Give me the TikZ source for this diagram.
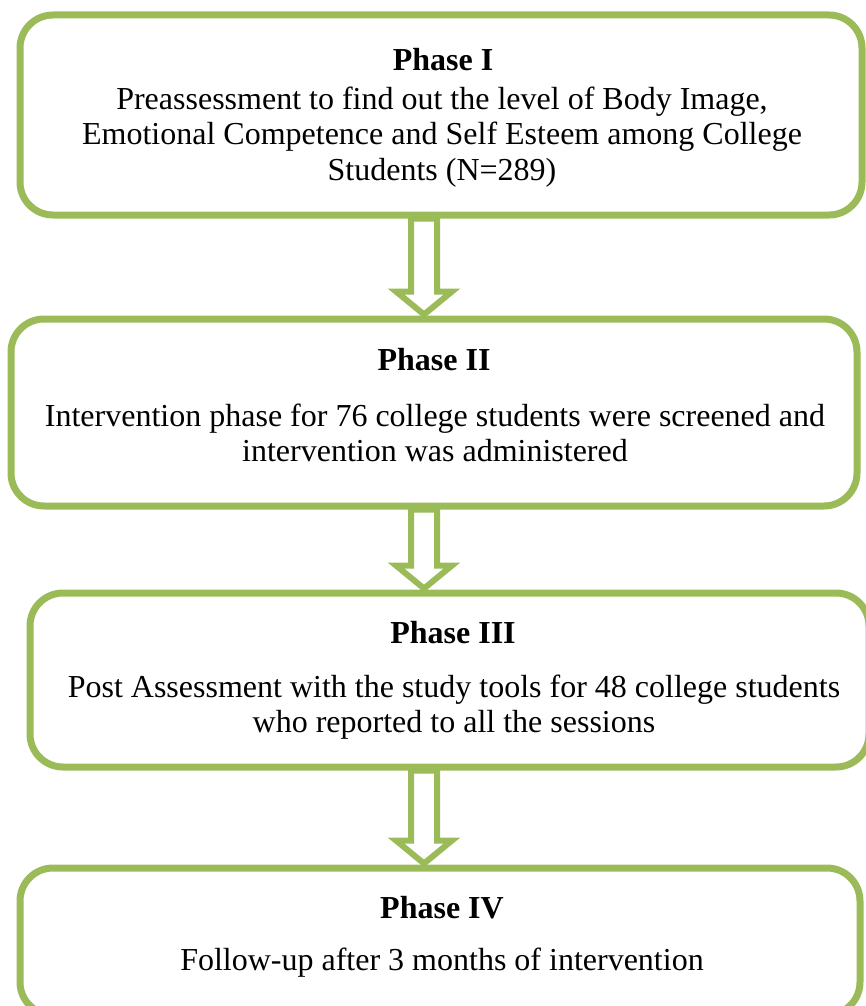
\documentclass[tikz,border=0pt]{standalone}
\usepackage{fontspec}
\setmainfont{Liberation Serif}
\usetikzlibrary{calc}
\definecolor{boxgreen}{HTML}{9BBB59}
\begin{document}
\begin{tikzpicture}[x=1pt,y=-1pt,
  phasebox/.style={draw=boxgreen, line width=7pt, rounded corners=33pt, rectangle, inner sep=0pt},
  titletext/.style={inner sep=0pt, align=center, font=\fontsize{32}{35.5}\selectfont\bfseries},
  bodytext/.style={inner sep=0pt, align=center, font=\fontsize{32}{35.5}\selectfont},
  blockarrow/.style={draw=boxgreen, line width=6pt, fill=white, line join=miter}
]
\useasboundingbox (0,0) rectangle (865,1006);
% boxes
\node[phasebox, minimum width=842pt, minimum height=200pt] (b1) at (441,115) {};
\node[phasebox, minimum width=846pt, minimum height=187pt] (b2) at (434,412.5) {};
\node[phasebox, minimum width=839pt, minimum height=174pt] (b3) at (449.5,680) {};
\node[phasebox, minimum width=840pt, minimum height=147pt] (b4) at (440,941.5) {};
% texts
\node[titletext] (t1) at (443,60) {Phase I};
\node[bodytext] (x1) at (442,137) {Preassessment to find out the level of Body Image,\\Emotional Competence and Self Esteem among College\\Students (N=289)};
\node[titletext] (t2) at (434,360) {Phase II};
\node[bodytext] (x2) at (435,433) {Intervention phase for 76 college students were screened and\\intervention was administered};
\node[titletext] (t3) at (453,633) {Phase III};
\node[bodytext] (x3) at (454,707) {Post Assessment with the study tools for 48 college students\\who reported to all the sessions};
\node[titletext] (t4) at (442,908) {Phase IV};
\node[bodytext] (x4) at (442,963) {Follow-up after 3 months of intervention};
% arrow axis
\coordinate (ax) at (424,0);
% arrows
\foreach \a/\b in {b1/b2, b2/b3, b3/b4}{
  \draw[blockarrow]
    let \p1=(\a.south -| ax), \p2=(\b.north -| ax) in
    (\x1-13,\y1) -- (\x1+13,\y1) -- (\x1+13,\y2+24) -- (\x1+28,\y2+24)
    -- (\x1,\y2+1) -- (\x1-28,\y2+24) -- (\x1-13,\y2+24) -- cycle;
}
\end{tikzpicture}
\end{document}
